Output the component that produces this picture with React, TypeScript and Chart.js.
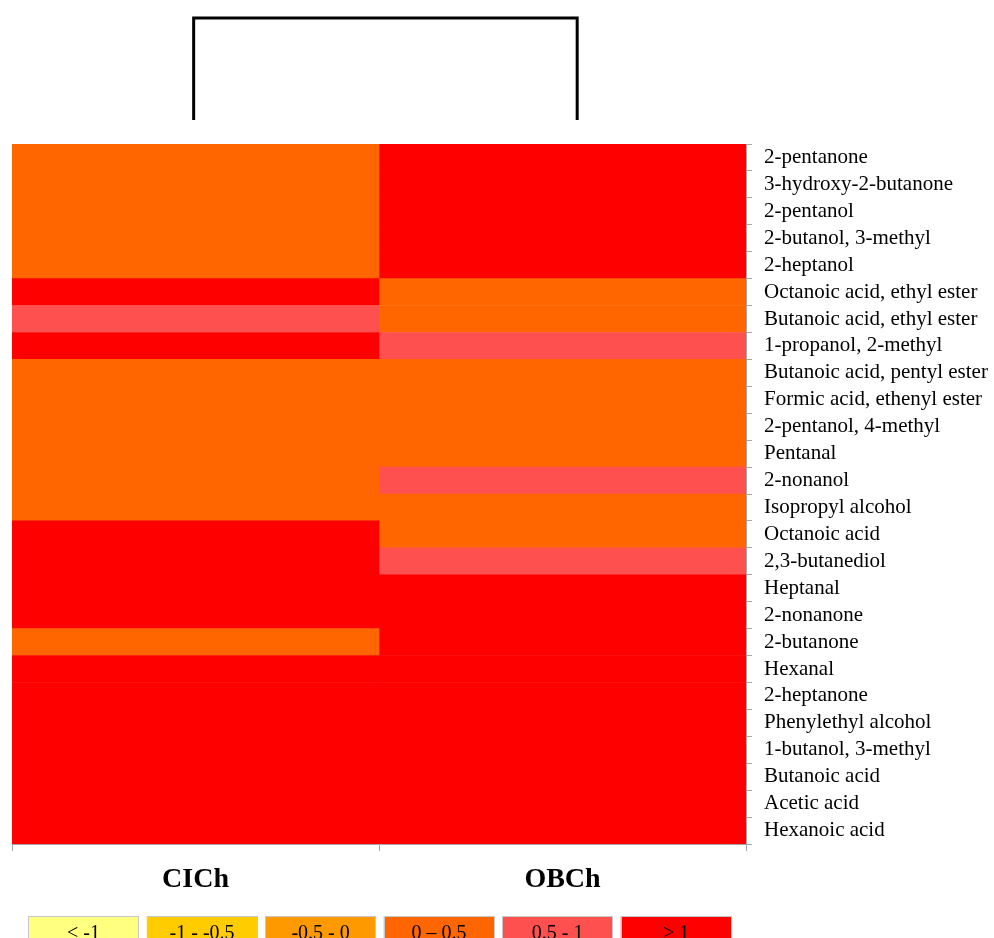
import React, { useEffect, useRef } from "react";
import { Chart, registerables } from "chart.js";

Chart.register(...registerables);

const compounds = [
  "2-pentanone",
  "3-hydroxy-2-butanone",
  "2-pentanol",
  "2-butanol, 3-methyl",
  "2-heptanol",
  "Octanoic acid, ethyl ester",
  "Butanoic acid, ethyl ester",
  "1-propanol, 2-methyl",
  "Butanoic acid, pentyl ester",
  "Formic acid, ethenyl ester",
  "2-pentanol, 4-methyl",
  "Pentanal",
  "2-nonanol",
  "Isopropyl alcohol",
  "Octanoic acid",
  "2,3-butanediol",
  "Heptanal",
  "2-nonanone",
  "2-butanone",
  "Hexanal",
  "2-heptanone",
  "Phenylethyl alcohol",
  "1-butanol, 3-methyl",
  "Butanoic acid",
  "Acetic acid",
  "Hexanoic acid",
];

const samples = ["CICh", "OBCh"];

// estimated standardized values (class read from the colour)
const cichValues = [
  0.3, 0.3, 0.3, 0.3, 0.3, 1.4, 0.8, 1.3, 0.2, 0.2, 0.2, 0.2, 0.3, 0.3, 1.2, 1.1,
  1.5, 1.3, 0.4, 1.4, 1.5, 1.5, 1.6, 1.7, 1.7, 1.8,
];
const obchValues = [
  1.6, 1.5, 1.5, 1.4, 1.4, 0.3, 0.3, 0.8, 0.2, 0.2, 0.2, 0.3, 0.7, 0.3, 0.4, 0.7,
  1.2, 1.3, 1.3, 1.4, 1.5, 1.6, 1.6, 1.7, 1.7, 1.8,
];

const legendLabels = ["< -1", "-1 - -0.5", "-0.5 - 0", "0 \u2013 0.5", "0.5 - 1", "> 1"];
const legendColors = ["#FFFF80", "#FFCC00", "#FF9900", "#FF6600", "#FF5050", "#FF0000"];
const binEdges = [-1, -0.5, 0, 0.5, 1];

// dendrogram leaf positions (in column units)
const dendroLeaves = [0.495, 1.54];

function colorFor(v: number): string {
  let i = 0;
  while (i < binEdges.length && v >= binEdges[i]) i++;
  return legendColors[i];
}

const SERIF = "'Liberation Serif', 'Times New Roman', serif";

const extrasPlugin = {
  id: "extras",
  afterDraw(chart: any) {
    const ctx = chart.ctx;
    const xs = chart.scales.x;
    // dendrogram
    const x1 = xs.getPixelForValue(dendroLeaves[0]);
    const x2 = xs.getPixelForValue(dendroLeaves[1]);
    ctx.save();
    ctx.strokeStyle = "#000";
    ctx.lineWidth = 3;
    ctx.beginPath();
    ctx.moveTo(x1, 120);
    ctx.lineTo(x1, 18);
    ctx.lineTo(x2, 18);
    ctx.lineTo(x2, 120);
    ctx.stroke();

    // legend boxes
    const startX = 28.3;
    const step = 118.5;
    const w = 110.5;
    const top = 916;
    const h = 34;
    ctx.font = `20px ${SERIF}`;
    ctx.textAlign = "center";
    ctx.textBaseline = "alphabetic";
    legendLabels.forEach((lab, i) => {
      const x = startX + i * step;
      ctx.fillStyle = legendColors[i];
      ctx.fillRect(x, top, w, h);
      ctx.strokeStyle = "#c8c8c8";
      ctx.lineWidth = 1;
      ctx.strokeRect(Math.round(x) + 0.5, top + 0.5, Math.round(w) - 1, h - 1);
      ctx.fillStyle = "#000";
      ctx.fillText(lab, x + w / 2, 939);
    });
    ctx.restore();
  },
};

export default function App() {
  const ref = useRef<HTMLCanvasElement | null>(null);

  useEffect(() => {
    document.body.style.margin = "0";
    document.body.style.overflow = "hidden";
    const canvas = ref.current;
    if (!canvas) return;
    const chart = new Chart(canvas, {
      type: "bar",
      data: {
        labels: compounds,
        datasets: [
          {
            label: samples[0],
            data: cichValues.map(() => 1),
            backgroundColor: cichValues.map(colorFor),
            borderWidth: 0,
            barPercentage: 1,
            categoryPercentage: 1,
          },
          {
            label: samples[1],
            data: obchValues.map(() => 1),
            backgroundColor: obchValues.map(colorFor),
            borderWidth: 0,
            barPercentage: 1,
            categoryPercentage: 1,
          },
        ],
      },
      options: {
        indexAxis: "y",
        responsive: false,
        animation: false,
        devicePixelRatio: 1,
        layout: { padding: { left: 12, top: 144, right: 0, bottom: 0 } },
        plugins: { legend: { display: false }, tooltip: { enabled: false } },
        scales: {
          x: {
            type: "linear",
            position: "bottom",
            stacked: true,
            min: 0,
            max: samples.length,
            afterBuildTicks: (s: any) => {
              s.ticks = samples.map((_, i) => ({ value: i + 0.5 }));
            },
            afterFit: (s: any) => {
              s.height = 94;
            },
            ticks: {
              callback: (_v: any, i: number) => samples[i],
              font: { family: SERIF, size: 28, weight: "bold" },
              color: "#000",
              padding: 12,
              maxRotation: 0,
              autoSkip: false,
            },
            grid: {
              offset: true,
              drawOnChartArea: false,
              tickLength: 7,
              color: "#a6a6a6",
            },
            border: { color: "#a6a6a6" },
          },
          y: {
            type: "category",
            position: "right",
            stacked: true,
            offset: true,
            afterFit: (s: any) => {
              s.width = 248;
            },
            ticks: {
              font: { family: SERIF, size: 21 },
              color: "#000",
              padding: 12,
              autoSkip: false,
              crossAlign: "near",
            },
            grid: {
              offset: true,
              drawOnChartArea: false,
              tickLength: 6,
              color: "#a6a6a6",
            },
            border: { color: "#a6a6a6" },
          },
        },
      },
      plugins: [extrasPlugin],
    } as any);
    return () => chart.destroy();
  }, []);

  return (
    <div style={{ width: 994, height: 938 }}>
      <canvas ref={ref} width={994} height={938} style={{ display: "block" }} />
    </div>
  );
}
